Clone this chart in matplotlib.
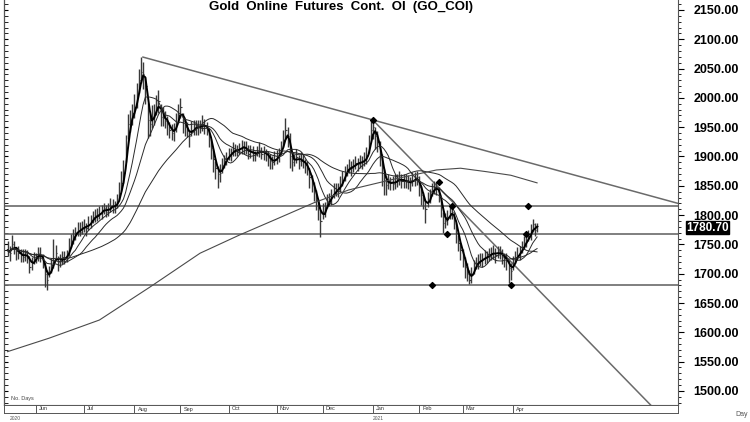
import numpy as np
import pandas as pd
import matplotlib
matplotlib.use('Agg')
import matplotlib.pyplot as plt
from matplotlib.ticker import MultipleLocator, FormatStrFormatter

plt.rcParams['font.family'] = ['Liberation Sans', 'DejaVu Sans']

# daily closes, 13 May 2020 .. 16 Apr 2021 (business days)
close = [
    1740, 1735, 1750, 1745, 1738, 1735, 1732, 1728, 1735, 1730,
    1712, 1718, 1725, 1728, 1735, 1730, 1722, 1700, 1690, 1705,
    1715, 1720, 1735, 1720, 1722, 1728, 1725, 1730, 1745, 1755,
    1765, 1770, 1775, 1772, 1780, 1782, 1778, 1785, 1790, 1795,
    1800, 1798, 1803, 1808, 1812, 1805, 1810, 1815, 1818, 1812,
    1822, 1838, 1855, 1872, 1911, 1955, 1960, 1975, 1985, 2000,
    2030, 2045, 2040, 2020, 1962, 1955, 1967, 1975, 1985, 1995,
    1967, 1970, 1960, 1957, 1945, 1940, 1945, 1957, 1970, 1985,
    1960, 1950, 1945, 1935, 1945, 1950, 1948, 1952, 1950, 1955,
    1952, 1948, 1935, 1915, 1895, 1880, 1870, 1872, 1885, 1892,
    1898, 1902, 1906, 1910, 1912, 1908, 1915, 1918, 1914, 1912,
    1905, 1910, 1906, 1902, 1908, 1911, 1905, 1908, 1904, 1898,
    1893, 1890, 1895, 1899, 1905, 1912, 1928, 1945, 1935, 1900,
    1890, 1895, 1899, 1892, 1895, 1890, 1885, 1880, 1865, 1855,
    1842, 1825, 1812, 1790, 1805, 1810, 1822, 1828, 1832, 1840,
    1843, 1845, 1852, 1860, 1872, 1878, 1882, 1880, 1885, 1889,
    1888, 1890, 1892, 1894, 1900, 1916, 1945, 1950, 1935, 1925,
    1906, 1880, 1860, 1852, 1858, 1855, 1853, 1858, 1860, 1862,
    1858, 1860, 1856, 1857, 1855, 1860, 1862, 1865, 1848, 1835,
    1826, 1810, 1826, 1835, 1843, 1848, 1845, 1838, 1814, 1787,
    1790, 1797, 1803, 1806, 1792, 1770, 1752, 1740, 1729, 1712,
    1700, 1690, 1698, 1712, 1718, 1720, 1723, 1725, 1728, 1729,
    1732, 1736, 1735, 1732, 1738, 1735, 1729, 1726, 1723, 1710,
    1705, 1718, 1729, 1732, 1735, 1746, 1750, 1758, 1765, 1770,
    1785, 1775, 1780.7,
]
# bar extent above / below the close
up = [
    15, 12, 16, 10, 8, 12, 10, 14, 8, 10,
    18, 10, 12, 8, 10, 15, 12, 20, 16, 8,
    12, 40, 14, 10, 12, 10, 14, 10, 16, 12,
    12, 10, 14, 16, 10, 12, 8, 14, 10, 12,
    10, 14, 12, 10, 8, 12, 10, 14, 10, 12,
    14, 18, 20, 22, 25, 18, 20, 15, 22, 25,
    20, 25, 22, 15, 30, 18, 20, 15, 20, 18,
    22, 15, 18, 12, 14, 16, 12, 18, 20, 15,
    15, 12, 14, 10, 16, 12, 14, 10, 12, 15,
    12, 10, 14, 15, 18, 12, 14, 16, 12, 10,
    10, 12, 8, 14, 10, 12, 8, 10, 12, 14,
    14, 10, 12, 8, 10, 14, 12, 10, 8, 12,
    12, 10, 14, 12, 10, 14, 18, 21, 15, 40,
    12, 10, 14, 10, 12, 14, 10, 12, 15, 14,
    14, 18, 16, 20, 15, 12, 14, 10, 12, 14,
    12, 10, 14, 16, 12, 10, 14, 12, 10, 12,
    10, 12, 8, 14, 16, 20, 15, 12, 15, 18,
    20, 25, 18, 14, 12, 10, 14, 12, 10, 14,
    12, 10, 14, 12, 10, 14, 12, 10, 18, 14,
    14, 16, 14, 10, 12, 10, 12, 10, 14, 18,
    14, 12, 10, 12, 14, 16, 14, 12, 14, 16,
    18, 16, 14, 12, 10, 14, 12, 10, 12, 10,
    12, 10, 14, 12, 10, 12, 14, 10, 12, 14,
    14, 12, 10, 14, 12, 10, 14, 12, 10, 14,
    8, 12, 6,
]
dn = [
    10, 14, 8, 12, 15, 10, 12, 8, 14, 12,
    10, 12, 8, 10, 14, 10, 12, 22, 18, 10,
    14, 10, 12, 16, 10, 12, 8, 10, 14, 10,
    14, 12, 10, 8, 12, 10, 14, 10, 12, 8,
    12, 8, 10, 14, 10, 8, 12, 10, 14, 8,
    10, 12, 14, 18, 20, 25, 18, 22, 20, 18,
    22, 20, 25, 30, 30, 20, 18, 22, 15, 20,
    15, 18, 12, 20, 14, 12, 18, 15, 12, 20,
    20, 15, 12, 18, 10, 14, 12, 16, 10, 12,
    14, 12, 18, 20, 22, 18, 24, 15, 14, 12,
    12, 8, 14, 10, 12, 8, 10, 14, 10, 8,
    10, 12, 14, 10, 8, 12, 10, 14, 12, 15,
    14, 12, 10, 12, 14, 10, 12, 15, 18, 20,
    14, 12, 10, 14, 12, 10, 14, 12, 18, 16,
    18, 16, 20, 27, 12, 14, 10, 12, 14, 10,
    10, 14, 12, 10, 14, 12, 10, 14, 12, 10,
    12, 10, 14, 10, 12, 10, 16, 20, 22, 18,
    22, 30, 25, 18, 14, 12, 10, 14, 12, 10,
    12, 14, 10, 12, 14, 10, 12, 14, 16, 18,
    16, 23, 12, 14, 10, 12, 10, 16, 18, 17,
    12, 14, 10, 12, 16, 18, 14, 16, 18, 20,
    12, 8, 14, 12, 10, 12, 10, 14, 12, 10,
    10, 12, 10, 14, 12, 10, 12, 14, 16, 26,
    16, 12, 10, 8, 12, 10, 8, 12, 10, 12,
    14, 10, 10,
]
ma_periods = [3, 9, 18, 40]

# long moving average (bar index, price)
ma200_idx = [0, 19, 42, 65, 88, 106, 124, 140, 156, 175, 196, 207, 219, 230, 242]
ma200_val = [1567, 1590, 1621, 1677, 1735, 1766, 1795, 1821, 1843, 1860,
             1877, 1880, 1874, 1868, 1855]

trend_lines = [((61.9, 2069.6), (306.4, 1820.0)),
               ((167.0, 1962.0), (300.0, 1452.6))]
levels = [1816, 1768, 1681]
pivot_idx = [167, 197, 203, 201, 238, 237, 194, 230]
pivot_val = [1962, 1856, 1816, 1768, 1816, 1768, 1681, 1681]

months = ['Jun', 'Jul', 'Aug', 'Sep', 'Oct', 'Nov', 'Dec', 'Jan', 'Feb', 'Mar', 'Apr']
last_price = 1780.70

n = len(close)
dates = pd.bdate_range('2020-05-13', periods=n)
x = np.arange(n)
c = np.array(close, dtype=float)
hi = c + np.array(up)
lo = c - np.array(dn)

fig = plt.figure(figsize=(7.5, 4.22), dpi=100)
ax = fig.add_axes([4 / 750, 1 - 405 / 422, 674 / 750, 405 / 422])

for lv in levels:
    ax.axhline(lv, color='#6a6a6a', lw=1.2, zorder=1)
for (x0, y0), (x1, y1) in trend_lines:
    ax.plot([x0, x1], [y0, y1], color='#6a6a6a', lw=1.1, zorder=1)

ax.vlines(x, lo, hi, color='#3a3a3a', lw=1.0, zorder=2)
ax.hlines(c, x, x + 0.6, color='#3a3a3a', lw=0.8, zorder=2)

s = pd.Series(c)
for k, p in enumerate(ma_periods):
    ma = s.rolling(p, min_periods=1).mean()
    ax.plot(x, ma, color='black' if k == 0 else '#2a2a2a',
            lw=1.4 if k == 0 else 0.7, zorder=3)
ax.plot(ma200_idx, ma200_val, color='#4a4a4a', lw=0.8, zorder=3)

ax.scatter(pivot_idx, pivot_val, marker='D', s=9, color='black', zorder=4)

ax.set_xlim(-1.6, 306.4)
ax.set_ylim(1476, 2167)
ax.set_xticks([])
ax.yaxis.tick_right()
ax.yaxis.set_major_locator(MultipleLocator(50))
ax.yaxis.set_minor_locator(MultipleLocator(10))
ax.yaxis.set_major_formatter(FormatStrFormatter('%.2f'))
ax.tick_params(axis='y', which='major', labelsize=9, length=4, pad=7, direction='out')
ax.tick_params(axis='y', which='minor', length=2, direction='out')
for lab in ax.get_yticklabels():
    lab.set_fontweight('bold')
ax.spines['top'].set_visible(False)
for sp in ['left', 'right', 'bottom']:
    ax.spines[sp].set_color('#555555')
    ax.spines[sp].set_linewidth(0.8)

# ruler ticks on the left edge
axl = ax.secondary_yaxis('left')
axl.yaxis.set_major_locator(MultipleLocator(50))
axl.yaxis.set_minor_locator(MultipleLocator(10))
axl.tick_params(which='both', direction='in', length=3, labelleft=False)

ax.text(0.5, 0.997, 'Gold  Online  Futures  Cont.  OI  (GO_COI)', transform=ax.transAxes,
        ha='center', va='top', fontsize=9.5, fontweight='bold')
ax.text(1.012, last_price - 2, '%.2f' % last_price, transform=ax.get_yaxis_transform(),
        ha='left', va='center', fontsize=8.5, fontweight='bold', color='white',
        bbox=dict(boxstyle='square,pad=0.03', fc='black', ec='black'))
ax.text(0.01, 0.01, 'No. Days', transform=ax.transAxes, fontsize=4, color='#444444',
        ha='left', va='bottom')

# date strip
axd = fig.add_axes([4 / 750, 1 - 413 / 422, 674 / 750, 8 / 422])
axd.set_xlim(-1.6, 306.4)
axd.set_ylim(0, 1)
axd.set_xticks([])
axd.set_yticks([])
for sp in axd.spines.values():
    sp.set_color('#555555')
    sp.set_linewidth(0.7)
starts = [i for i in range(1, n) if dates[i].month != dates[i - 1].month]
for i, m in zip(starts, months):
    axd.axvline(i, color='#555555', lw=0.7)
    axd.text(i + 1.5, 0.5, m, fontsize=4, va='center', ha='left', color='#333333')
fig.text(10 / 750, 1 - 418 / 422, '2020', fontsize=3.5, color='#555555', va='center')
fig.text((4 + 674 * (starts[7] + 1.6) / 308) / 750, 1 - 418 / 422, '2021', fontsize=3.5,
         color='#555555', va='center')
fig.text(735 / 750, 1 - 415 / 422, 'Day', fontsize=5, color='#555555', va='center')

fig.savefig('out.png', dpi=100)
